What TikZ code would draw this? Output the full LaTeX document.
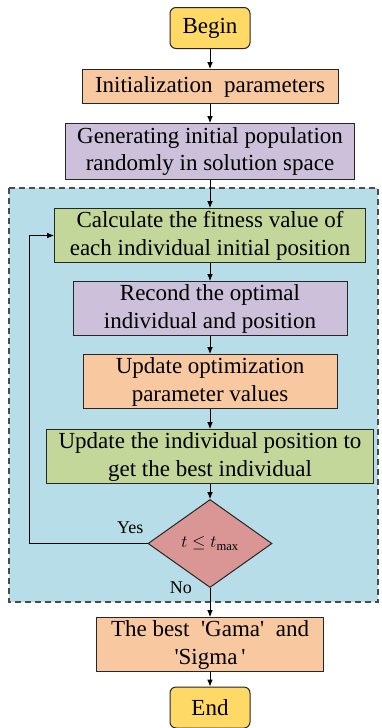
\documentclass[tikz,border=0pt]{standalone}
\usepackage{fontspec}
\setmainfont{Liberation Serif}
\usetikzlibrary{arrows.meta,positioning,shapes.geometric,backgrounds}

\definecolor{termyellow}{HTML}{FFD966}
\definecolor{peach}{HTML}{F8C9A0}
\definecolor{lilac}{HTML}{CCC0DA}
\definecolor{sage}{HTML}{C4D79B}
\definecolor{rose}{HTML}{DA9694}
\definecolor{loopblue}{HTML}{B7DDE8}
\definecolor{edge}{HTML}{262626}

\begin{document}
\begin{tikzpicture}[
    font=\fontsize{23}{28}\selectfont,
    on grid,
    term/.style={
        draw=edge,
        rounded corners=6pt,
        fill=termyellow,
        minimum width=80pt,
        minimum height=41pt,
        line width=1pt
    },
    box/.style={
        draw=edge,
        align=center,
        minimum height=54pt,
        inner sep=0pt,
        line width=1pt
    },
    test/.style={
        draw=edge,
        diamond,
        fill=rose,
        minimum width=124pt,
        minimum height=88pt,
        inner sep=0pt,
        line width=1pt,
        font=\fontsize{18}{20}\selectfont
    },
    region/.style={
        draw=black!70,
        fill=loopblue,
        dash pattern=on 6pt off 4pt,
        line width=1.1pt
    },
    lbl/.style={font=\fontsize{18}{20}\selectfont, inner sep=1pt},
    arrow/.style={-{Latex[length=2.4mm,width=2mm]}, line width=0.9pt}
]
\useasboundingbox (0,0) rectangle (381pt,-728pt);

% main column, centre to centre
\node[term] (begin) at (210pt,-28pt) {Begin};

\node[box, fill=peach, minimum width=256pt, minimum height=34pt, below=58.5pt of begin] (init)
{Initialization\ \ parameters};

\node[box, fill=lilac, minimum width=289pt, minimum height=56pt, below=65pt of init] (population)
{Generating initial population\\randomly in solution space};

\node[box, fill=sage, minimum width=311pt, below=84pt of population] (fitness)
{Calculate the fitness value of\\each individual initial position};

\node[box, fill=lilac, minimum width=274pt, below=73pt of fitness] (record)
{Recond the optimal\\individual and position};

\node[box, fill=peach, minimum width=254pt, below=73pt of record] (params)
{Update optimization\\parameter values};

\node[box, fill=sage, minimum width=327pt, below=75pt of params] (position)
{Update the individual position to\\get the best individual};

\node[test, below=87pt of position] (check)
{$t \le t_{\max}$};

\node[box, fill=peach, minimum width=227pt, below=101pt of check] (best)
{The best\ \ \textquotesingle Gama\textquotesingle\ \ and\\\textquotesingle Sigma\,\textquotesingle};

\node[term, below=63pt of best] (end) {End};

% branch labels
\node[lbl, anchor=south east] (yes) at ([shift={(-3pt,9pt)}]check.west) {Yes};
\node[lbl, anchor=east] (no) at ([shift={(-17pt,0pt)}]check.south) {No};

% iteration area behind the loop
\begin{scope}[on background layer]
\draw[region] (9pt,-188pt) rectangle (378pt,-602pt);
\end{scope}

\draw[arrow] (begin) -- (init);
\draw[arrow] (init) -- (population);
\draw[arrow] (population) -- (fitness);
\draw[arrow] (fitness) -- (record);
\draw[arrow] (record) -- (params);
\draw[arrow] (params) -- (position);
\draw[arrow] (position) -- (check);
\draw[arrow] (check) -- (best);
\draw[arrow] (best) -- (end);
\draw[arrow] (check.west) -- ++(-118pt,0) |- (fitness.west);

\end{tikzpicture}
\end{document}
